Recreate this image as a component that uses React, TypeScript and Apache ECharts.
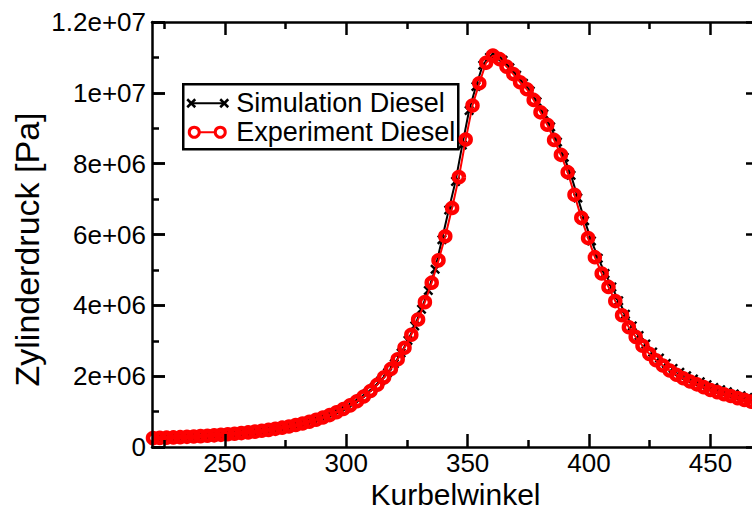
import React, { useEffect, useRef } from "react";
import * as echarts from "echarts";

// ---- data (pressure in MPa = 1e6 Pa) ----
const xMajorTicks = [250, 300, 350, 400, 450];
const xMinorTicks = [225, 275, 325, 375, 425];
const yMajorTicks = [0, 2e6, 4e6, 6e6, 8e6, 1e7, 1.2e7];
const seriesNames = ["Simulation Diesel", "Experiment Diesel"];
const expStartAngle = 220.4;
const simStartAngle = 221.8;
const angleStep = 2.8;

const expPressureMPa = [
  0.251, 0.257, 0.263, 0.27, 0.278, 0.287, 0.296, 0.307, 0.318, 0.33,
  0.344, 0.359, 0.375, 0.393, 0.412, 0.434, 0.458, 0.484, 0.513, 0.545,
  0.58, 0.62, 0.664, 0.713, 0.769, 0.832, 0.902, 0.982, 1.072, 1.175,
  1.293, 1.427, 1.582, 1.76, 1.966, 2.204, 2.479, 2.8, 3.17, 3.6,
  4.09, 4.64, 5.27, 5.95, 6.75, 7.62, 8.68, 9.64, 10.27, 10.85,
  11.05, 10.95, 10.74, 10.53, 10.3, 10.1, 9.8, 9.45, 9.1, 8.67,
  8.25, 7.76, 7.12, 6.47, 5.9, 5.36, 4.9, 4.52, 4.12, 3.72,
  3.38, 3.11, 2.86, 2.63, 2.45, 2.3, 2.16, 2.04, 1.94, 1.85,
  1.77, 1.69, 1.61, 1.55, 1.49, 1.44, 1.38, 1.33, 1.28, 1.23,
  1.19,
];

const simPressureMPa = [
  0.26, 0.265, 0.272, 0.279, 0.288, 0.297, 0.307, 0.318, 0.33, 0.343,
  0.357, 0.373, 0.39, 0.409, 0.429, 0.452, 0.477, 0.504, 0.535, 0.569,
  0.607, 0.649, 0.696, 0.749, 0.808, 0.875, 0.95, 1.035, 1.131, 1.241,
  1.368, 1.513, 1.68, 1.873, 2.095, 2.352, 2.654, 3.01, 3.42, 3.89,
  4.42, 5.02, 5.85, 6.69, 7.5, 8.53, 9.5, 10.18, 10.78, 11.0,
  11.02, 10.92, 10.71, 10.5, 10.27, 10.05, 9.75, 9.4, 9.04, 8.61,
  8.18, 7.67, 7.03, 6.39, 5.82, 5.33, 4.9, 4.52, 4.13, 3.75,
  3.42, 3.15, 2.91, 2.68, 2.51, 2.36, 2.22, 2.11, 2.01, 1.92,
  1.84, 1.76, 1.68, 1.62, 1.56, 1.5, 1.45, 1.4, 1.35, 1.3,
];

const FONT = '"Liberation Sans", Arial, Helvetica, sans-serif';
const X_PATH =
  "path://M0,1.7 L1.7,0 L5,3.3 L8.3,0 L10,1.7 L6.7,5 L10,8.3 L8.3,10 L5,6.7 L1.7,10 L0,8.3 L3.3,5 Z";

function fmtY(v: number): string {
  if (v === 0) return "0";
  const e = Math.floor(Math.log10(v) + 1e-9);
  const m = Math.round((v / Math.pow(10, e)) * 10) / 10;
  return `${m}e+${String(e).padStart(2, "0")}`;
}

export default function App() {
  const ref = useRef<HTMLDivElement>(null);

  useEffect(() => {
    if (!ref.current) return;
    const chart = echarts.init(ref.current, null, { renderer: "svg" });

    const expData = expPressureMPa.map((p, i) => [expStartAngle + i * angleStep, p * 1e6]);
    const simData = simPressureMPa.map((p, i) => [simStartAngle + i * angleStep, p * 1e6]);

    const tickStyle = { color: "#000", width: 2.5 };
    const axisLine = { show: true, onZero: false, lineStyle: { color: "#000", width: 2.5 } };
    const noLine = { show: false, onZero: false };
    const baseX = { type: "value", min: 220, max: 470, splitLine: { show: false }, z: 10 };
    const baseY = { type: "value", min: 0, max: 1.2e7, interval: 2e6, splitLine: { show: false }, z: 10 };

    const legendX = 182;
    const legendY = 83;

    const option: any = {
      animation: false,
      backgroundColor: "#fff",
      grid: {
        left: 152,
        top: 22,
        right: -7,
        bottom: 62,
        containLabel: false,
        outerBoundsMode: "none",
      },
      xAxis: [
        {
          ...baseX,
          position: "bottom",
          name: "Kurbelwinkel",
          nameLocation: "middle",
          nameGap: 32,
          nameMoveOverlap: false,
          nameTextStyle: { fontFamily: FONT, fontSize: 30, lineHeight: 30, color: "#000" },
          axisLine,
          axisTick: { show: true, inside: true, length: 13, customValues: xMajorTicks, lineStyle: tickStyle },
          axisLabel: {
            show: true,
            customValues: xMajorTicks,
            margin: 4,
            fontFamily: FONT,
            fontSize: 26,
            lineHeight: 24,
            color: "#000",
          },
        },
        {
          ...baseX,
          position: "bottom",
          axisLine: noLine,
          axisTick: { show: true, inside: true, length: 7, customValues: xMinorTicks, lineStyle: tickStyle },
          axisLabel: { show: false },
        },
        {
          ...baseX,
          position: "top",
          axisLine,
          axisTick: { show: true, inside: true, length: 13, customValues: xMajorTicks, lineStyle: tickStyle },
          axisLabel: { show: false },
        },
        {
          ...baseX,
          position: "top",
          axisLine: noLine,
          axisTick: { show: true, inside: true, length: 7, customValues: xMinorTicks, lineStyle: tickStyle },
          axisLabel: { show: false },
        },
      ],
      yAxis: [
        {
          ...baseY,
          position: "left",
          name: "Zylinderdruck [Pa]",
          nameLocation: "middle",
          nameGap: 108,
          nameMoveOverlap: false,
          nameTextStyle: { fontFamily: FONT, fontSize: 34, color: "#000", padding: [0, 30, 0, 0] },
          axisLine,
          axisTick: { show: true, inside: true, length: 13, customValues: yMajorTicks, lineStyle: tickStyle },
          minorTick: { show: true, splitNumber: 2, length: 7, lineStyle: tickStyle },
          axisLabel: {
            show: true,
            margin: 6,
            fontFamily: FONT,
            fontSize: 26,
            color: "#000",
            formatter: (v: number) => fmtY(v),
          },
        },
        {
          ...baseY,
          position: "right",
          axisLine,
          axisTick: { show: true, inside: true, length: 13, lineStyle: tickStyle },
          minorTick: { show: true, splitNumber: 2, length: 7, lineStyle: tickStyle },
          axisLabel: { show: false },
        },
        {
          ...baseY,
          position: "left",
          axisLine: noLine,
          axisTick: { show: true, inside: true, length: 13, lineStyle: tickStyle },
          axisLabel: { show: false },
        },
      ],
      series: [
        {
          name: seriesNames[0],
          type: "line",
          xAxisIndex: 0,
          yAxisIndex: 0,
          data: simData,
          symbol: X_PATH,
          symbolSize: 10,
          showAllSymbol: true,
          lineStyle: { color: "#000", width: 2 },
          itemStyle: { color: "#000" },
          z: 2,
        },
        {
          name: seriesNames[1],
          type: "line",
          xAxisIndex: 0,
          yAxisIndex: 0,
          data: expData,
          symbol: "circle",
          symbolSize: 10,
          showAllSymbol: true,
          lineStyle: { color: "#ff0000", width: 2 },
          itemStyle: { color: "rgba(255,0,0,0)", borderColor: "#ff0000", borderWidth: 4.5 },
          z: 3,
        },
      ],
      graphic: [
        {
          type: "group",
          left: legendX,
          top: legendY,
          z: 100,
          children: [
            {
              type: "rect",
              shape: { x: 0, y: 0, width: 275, height: 65 },
              style: { fill: "#fff", stroke: "#000", lineWidth: 2.5 },
            },
            { type: "line", shape: { x1: 8, y1: 19, x2: 41, y2: 19 }, style: { stroke: "#000", lineWidth: 2 } },
            { type: "line", shape: { x1: 4, y1: 15, x2: 12, y2: 23 }, style: { stroke: "#000", lineWidth: 2.5 } },
            { type: "line", shape: { x1: 4, y1: 23, x2: 12, y2: 15 }, style: { stroke: "#000", lineWidth: 2.5 } },
            { type: "line", shape: { x1: 37, y1: 15, x2: 45, y2: 23 }, style: { stroke: "#000", lineWidth: 2.5 } },
            { type: "line", shape: { x1: 37, y1: 23, x2: 45, y2: 15 }, style: { stroke: "#000", lineWidth: 2.5 } },
            {
              type: "text",
              x: 53,
              y: 19,
              style: {
                text: seriesNames[0],
                fontFamily: FONT,
                fontSize: 27,
                fill: "#000",
                verticalAlign: "middle",
                align: "left",
              },
            },
            { type: "line", shape: { x1: 11, y1: 48, x2: 37, y2: 48 }, style: { stroke: "#ff0000", lineWidth: 2 } },
            {
              type: "circle",
              shape: { cx: 11, cy: 48, r: 5 },
              style: { fill: "#fff", stroke: "#ff0000", lineWidth: 3 },
            },
            {
              type: "circle",
              shape: { cx: 37, cy: 48, r: 5 },
              style: { fill: "#fff", stroke: "#ff0000", lineWidth: 3 },
            },
            {
              type: "text",
              x: 53,
              y: 48,
              style: {
                text: seriesNames[1],
                fontFamily: FONT,
                fontSize: 27,
                fill: "#000",
                verticalAlign: "middle",
                align: "left",
              },
            },
          ],
        },
      ],
    };

    chart.setOption(option);
    return () => chart.dispose();
  }, []);

  return (
    <div
      style={{
        position: "fixed",
        left: 0,
        top: 0,
        width: 752,
        height: 509,
        overflow: "hidden",
        background: "#fff",
      }}
    >
      <div ref={ref} style={{ width: 752, height: 509 }} />
    </div>
  );
}
